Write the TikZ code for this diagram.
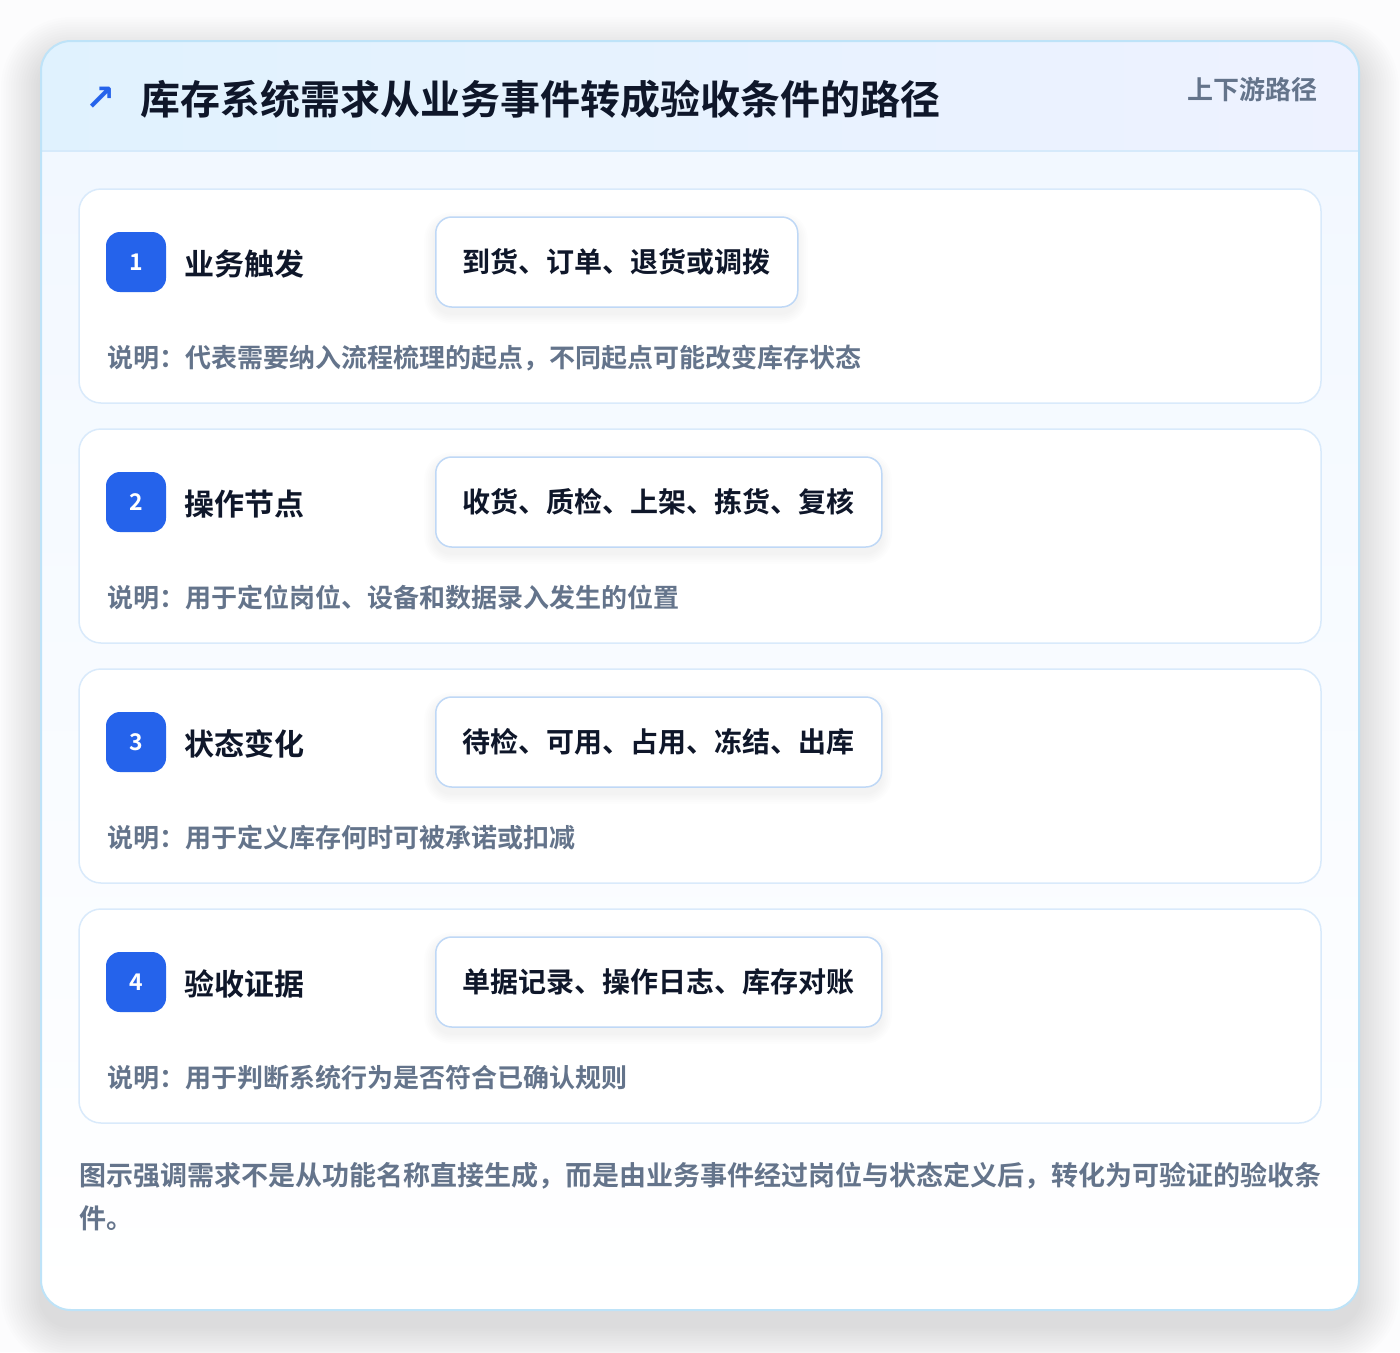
\documentclass[tikz,border=0pt]{standalone}
\usepackage{fontspec}
\setmainfont{Noto Sans CJK SC}[BoldFont={Noto Sans CJK SC Bold}]
\newfontfamily\symfont{DejaVu Sans}
\definecolor{pagebg}{HTML}{FCFCFD}
\definecolor{cardborder}{HTML}{BEE3F8}
\definecolor{headL}{HTML}{E0F2FE}
\definecolor{headR}{HTML}{EEF2FF}
\definecolor{bodytop}{HTML}{F2F8FF}
\definecolor{sepline}{HTML}{D6EAFB}
\definecolor{rowborder}{HTML}{D9EAFB}
\definecolor{pillborder}{HTML}{BFD8F6}
\definecolor{accent}{HTML}{2563EB}
\definecolor{ink}{HTML}{0F172A}
\definecolor{muted}{HTML}{64748B}
\tikzset{
  rowcard/.style={draw=rowborder, line width=1.5pt, fill=white, rounded corners=22pt},
  badge/.style={fill=accent, rounded corners=14pt, minimum width=60pt, minimum height=60pt, inner sep=0pt,
    text=white, font=\bfseries\fontsize{23}{25}\selectfont},
  steplabel/.style={anchor=west, inner sep=0pt, text=ink, font=\bfseries\fontsize{30}{34}\selectfont},
  pill/.style={anchor=west, draw=pillborder, line width=1.5pt, fill=white, rounded corners=16pt,
    minimum height=90pt, inner xsep=27pt, inner ysep=0pt, text=ink, font=\bfseries\fontsize{28}{32}\selectfont},
  desc/.style={anchor=west, inner sep=0pt, text=muted, font=\bfseries\fontsize{26}{30}\selectfont},
  foot/.style={anchor=west, inner sep=0pt, text=muted, font=\bfseries\fontsize{27}{32}\selectfont},
  shadowlayer/.style={fill=black, fill opacity=#1},
}
\begin{document}
\begin{tikzpicture}[x=1pt,y=-1pt]
\useasboundingbox (0,0) rectangle (1400,1352);
\fill[pagebg] (0,0) rectangle (1400,1352);
% outer card soft shadow (layered)
\foreach \k in {1,...,16}{
  \pgfmathsetmacro{\e}{2.5*\k}
  \fill[shadowlayer=0.007, rounded corners=30pt+\e pt]
    (41-\e,41-\e+16) rectangle (1359+\e,1310+\e+16);
}
\path[fill=white, rounded corners=30pt] (41,41) rectangle (1359,1310);
\begin{scope}
  \clip[rounded corners=30pt] (41,41) rectangle (1359,1310);
  \shade[top color=bodytop, bottom color=white] (41,151) rectangle (1359,1310);
  \shade[left color=headL, right color=headR] (41,41) rectangle (1359,151);
  \draw[sepline, line width=1.5pt] (41,151) -- (1359,151);
\end{scope}
\draw[cardborder, line width=2pt, rounded corners=30pt] (41,41) rectangle (1359,1310);
% header
\node[inner sep=0pt, text=accent, font=\symfont\bfseries\fontsize{36}{38}\selectfont] (icon) at (101,99) {↗};
\node[anchor=west, inner sep=0pt, text=ink, font=\bfseries\fontsize{40}{46}\selectfont] (title) at (140,99)
  {库存系统需求从业务事件转成验收条件的路径};
\node[anchor=east, inner sep=0pt, text=muted, font=\bfseries\fontsize{26}{30}\selectfont] (tag) at (1318,90) {上下游路径};
% rows
\foreach \i/\lab/\pil/\des/\pw in {
  0/业务触发/到货、订单、退货或调拨/说明：代表需要纳入流程梳理的起点，不同起点可能改变库存状态/362,
  1/操作节点/收货、质检、上架、拣货、复核/说明：用于定位岗位、设备和数据录入发生的位置/446,
  2/状态变化/待检、可用、占用、冻结、出库/说明：用于定义库存何时可被承诺或扣减/446,
  3/验收证据/单据记录、操作日志、库存对账/说明：用于判断系统行为是否符合已确认规则/446}{
  \pgfmathsetmacro{\yy}{189+240*\i}
  \pgfmathtruncatemacro{\n}{\i+1}
  \draw[rowcard] (79,\yy) rectangle (1321,\yy+214);
  \node[badge] (badge\n) at (136,\yy+73) {\n};
  \node[steplabel] (label\n) at (184,\yy+75) {\lab};
  \foreach \k in {1,...,6}{
    \pgfmathsetmacro{\e}{1.8*\k}
    \fill[shadowlayer=0.008, rounded corners=16pt+\e pt]
      (435-\e,\yy+28-\e+6) rectangle (435+\pw+\e,\yy+118+\e+6);
  }
  \node[pill] (pill\n) at (435,\yy+73) {\pil};
  \node[desc] (desc\n) at (107,\yy+169) {\des};
}
% footer
\node[foot] (foot1) at (79,1176) {图示强调需求不是从功能名称直接生成，而是由业务事件经过岗位与状态定义后，转化为可验证的验收条};
\node[foot] (foot2) at (79,1218) {件。};
\end{tikzpicture}
\end{document}
